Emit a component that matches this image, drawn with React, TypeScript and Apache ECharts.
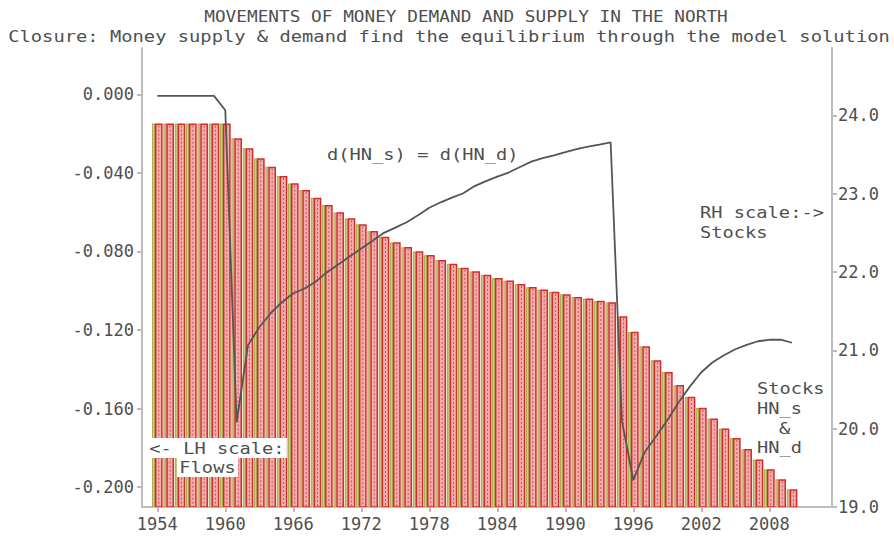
import React, { useEffect, useRef } from "react";
import * as echarts from "echarts";

const years = [
  1954, 1955, 1956, 1957, 1958, 1959, 1960, 1961, 1962, 1963, 1964, 1965, 1966, 1967, 1968, 1969,
  1970, 1971, 1972, 1973, 1974, 1975, 1976, 1977, 1978, 1979, 1980, 1981, 1982, 1983, 1984, 1985,
  1986, 1987, 1988, 1989, 1990, 1991, 1992, 1993, 1994, 1995, 1996, 1997, 1998, 1999, 2000, 2001,
  2002, 2003, 2004, 2005, 2006, 2007, 2008, 2009, 2010,
];

// Flows d(HN_s) = d(HN_d), left-hand scale
const flows = [
  -0.0149, -0.0149, -0.0149, -0.0149, -0.0149, -0.0149, -0.0149, -0.0224, -0.0275, -0.0326,
  -0.0369, -0.0416, -0.0454, -0.0488, -0.0527, -0.0564, -0.0601, -0.0632, -0.0662, -0.0697,
  -0.0726, -0.0754, -0.0778, -0.08, -0.0819, -0.0844, -0.0863, -0.0883, -0.0902, -0.0919,
  -0.0936, -0.0949, -0.0966, -0.0982, -0.0994, -0.1006, -0.1018, -0.1032, -0.104, -0.1052,
  -0.1059, -0.1131, -0.121, -0.1283, -0.1354, -0.1414, -0.1481, -0.1541, -0.1597, -0.1651,
  -0.1702, -0.175, -0.1807, -0.186, -0.1909, -0.196, -0.2011,
];

// Stocks HN_s & HN_d, right-hand scale
const stocks = [
  24.249, 24.249, 24.249, 24.249, 24.249, 24.249, 24.066, 20.082, 21.066, 21.295,
  21.474, 21.614, 21.729, 21.79, 21.88, 22.0, 22.1, 22.2, 22.3, 22.4,
  22.5, 22.566, 22.636, 22.725, 22.82, 22.89, 22.95, 23.006, 23.097, 23.16,
  23.217, 23.27, 23.34, 23.41, 23.455, 23.49, 23.53, 23.57, 23.6, 23.626,
  23.654, 20.095, 19.342, 19.7, 19.9, 20.107, 20.337, 20.54, 20.72, 20.848,
  20.937, 21.014, 21.07, 21.116, 21.135, 21.138, 21.097,
];

const xTicks = [1954, 1960, 1966, 1972, 1978, 1984, 1990, 1996, 2002, 2008];
const leftTicks = [0, -0.04, -0.08, -0.12, -0.16, -0.2];
const rightTicks = [19, 20, 21, 22, 23, 24];

const LEFT_MIN = -0.2101;
const LEFT_MAX = 0.0236;
const RIGHT_MIN = 19;
const RIGHT_MAX = 24.86;
const X_MIN = 1952.65;
const X_MAX = 2013.53;

const FONT = '"DejaVu Sans Mono", "Liberation Mono", monospace';
const TXT = "#4f4f4f";
const AXIS = "#bcbcbc";

function txt(text: string, x: number, y: number, scaleX: number, opts: any = {}) {
  return {
    type: "text",
    x,
    y,
    scaleX,
    z: 100,
    style: {
      text,
      font: `${opts.size || 16}px ${FONT}`,
      fill: TXT,
      align: opts.align || "left",
      textAlign: opts.align || "left",
      verticalAlign: "middle",
      textVerticalAlign: "middle",
      backgroundColor: opts.bg,
      padding: opts.bg ? [2, 2, 2, 2] : undefined,
    },
  };
}

export default function App() {
  const ref = useRef<HTMLDivElement>(null);
  useEffect(() => {
    if (!ref.current) return;
    const chart = echarts.init(ref.current, null, { renderer: "svg" });
    const barData = years.map((y, i) => [y, flows[i]]);
    const lineData = years.map((y, i) => [y, stocks[i]]);
    const axisLabel = { color: TXT, fontFamily: FONT, fontSize: 17 };
    chart.setOption({
      animation: false,
      backgroundColor: "#ffffff",
      grid: { left: 142, right: 62, top: 48, bottom: 29 },
      xAxis: {
        type: "value",
        min: X_MIN,
        max: X_MAX,
        splitLine: { show: false },
        axisLine: { onZero: false, lineStyle: { color: AXIS, width: 2 } },
        axisTick: { customValues: xTicks, length: 5, lineStyle: { color: AXIS, width: 2 } },
        axisLabel: { ...axisLabel, customValues: xTicks, margin: 8, formatter: (v: number) => String(v) },
      },
      yAxis: [
        {
          type: "value",
          min: LEFT_MIN,
          max: LEFT_MAX,
          splitLine: { show: false },
          axisLine: { show: true, onZero: false, lineStyle: { color: AXIS, width: 2 } },
          axisTick: { show: true, customValues: leftTicks, length: 5, lineStyle: { color: AXIS, width: 2 } },
          axisLabel: { ...axisLabel, customValues: leftTicks, margin: 8, formatter: (v: number) => v.toFixed(3) },
        },
        {
          type: "value",
          position: "right",
          min: RIGHT_MIN,
          max: RIGHT_MAX,
          splitLine: { show: false },
          axisLine: { show: true, onZero: false, lineStyle: { color: AXIS, width: 2 } },
          axisTick: { show: true, customValues: rightTicks, length: 5, lineStyle: { color: AXIS, width: 2 } },
          axisLabel: { ...axisLabel, customValues: rightTicks, margin: 6, formatter: (v: number) => v.toFixed(1) },
        },
      ],
      series: [
        {
          type: "custom",
          name: "d(HN_s) = d(HN_d)",
          xAxisIndex: 0,
          yAxisIndex: 0,
          data: barData,
          clip: true,
          z: 2,
          renderItem: (params: any, api: any) => {
            const x = api.value(0);
            const v = api.value(1);
            const top = api.coord([x, v]);
            const bottom = api.coord([x, LEFT_MIN]);
            const w = api.size([1, 0])[0] * 0.92;
            const x0 = top[0] - w / 2;
            const h = bottom[1] - top[1];
            const oliveW = 3;
            const redX = x0 + oliveW;
            const redW = w - oliveW;
            return {
              type: "group",
              children: [
                {
                  type: "rect",
                  shape: { x: x0, y: top[1], width: oliveW, height: h },
                  style: { fill: "#a9a548" },
                },
                {
                  type: "rect",
                  shape: { x: x0 + 1, y: top[1] + 1, width: 1, height: h - 1 },
                  style: { fill: "#d4d098" },
                },
                {
                  type: "rect",
                  shape: { x: redX + 0.6, y: top[1] + 0.6, width: redW - 1.2, height: h - 0.6 },
                  style: { fill: "#f0b0b0", stroke: "#d42a2a", lineWidth: 1.5 },
                },
                {
                  type: "line",
                  shape: { x1: redX + redW / 2, y1: top[1] + 2, x2: redX + redW / 2, y2: bottom[1] },
                  style: { stroke: "#dd4a4a", lineWidth: 1, lineDash: [2, 2] },
                },
              ],
            };
          },
        },
        {
          type: "line",
          name: "Stocks HN_s & HN_d",
          xAxisIndex: 0,
          yAxisIndex: 1,
          data: lineData,
          symbol: "none",
          z: 5,
          lineStyle: { color: "#555555", width: 1.8 },
        },
      ],
      graphic: [
        txt("MOVEMENTS OF MONEY DEMAND AND SUPPLY IN THE NORTH", 466, 16, 1.11, { align: "center" }),
        txt("Closure: Money supply & demand find the equilibrium through the model solution", 449, 36, 1.174, { align: "center" }),
        txt("d(HN_s) = d(HN_d)", 327, 154, 1.17),
        txt("RH scale:->", 700, 212, 1.17),
        txt("Stocks", 700, 232, 1.17),
        txt("Stocks", 757, 388, 1.17),
        txt("HN_s", 757, 408, 1.17),
        txt("&", 779, 428, 1.17),
        txt("HN_d", 757, 447, 1.17),
        txt("<- LH scale:", 147, 448, 1.17, { bg: "#ffffff" }),
        txt("Flows", 177, 467, 1.17, { bg: "#ffffff" }),
      ],
    });
    return () => chart.dispose();
  }, []);
  return (
    <div
      ref={ref}
      style={{ position: "fixed", left: 0, top: 0, width: 894, height: 536, background: "#fff" }}
    />
  );
}
